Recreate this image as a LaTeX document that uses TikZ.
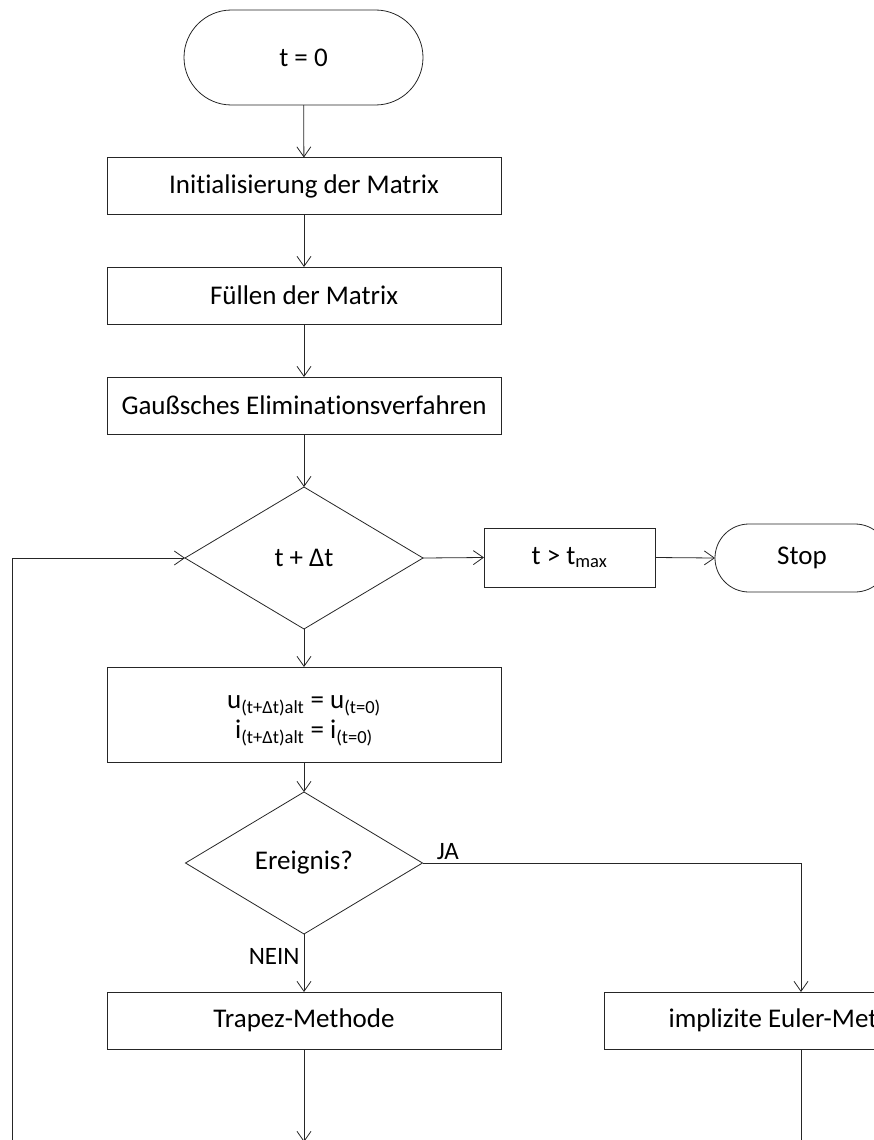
\documentclass[tikz,border=0pt]{standalone}
\usepackage{fontspec}
\setmainfont{Carlito}[Ligatures=NoCommon]
\usetikzlibrary{shapes.geometric,arrows.meta}

\tikzset{
  base/.style={draw=black!85, line width=0.8pt, inner sep=0pt, outer sep=0pt,
    font=\fontsize{27}{32}\selectfont, text=black},
  proc/.style={base, rectangle, minimum width=394pt, minimum height=57pt},
  term/.style={base, rectangle, rounded corners=#1},
  decide/.style={base, diamond, minimum width=238pt, minimum height=142pt},
  flow/.style={draw=black!85, line width=0.8pt, -{Straight Barb[length=10pt,width=14pt]}},
  lbl/.style={font=\fontsize{25}{30}\selectfont, inner sep=0pt}
}
\newcommand{\sub}[1]{\textsubscript{\fontsize{18.5}{22}\selectfont #1}}

\begin{document}
\begin{tikzpicture}[x=1pt, y=-1pt]
  \useasboundingbox (0,0) rectangle (874,1140);
  \clip (0,0) rectangle (874,1140);

  % main column
  \node[term=47.5pt, minimum width=239pt, minimum height=95pt] (start) at (303.5,57.5) {t = 0};
  \node[proc] (init) at (304,186) {Initialisierung der Matrix};
  \node[proc] (fill) at (304,295.5) {Füllen der Matrix};
  \node[proc] (gauss) at (304,405.5) {Gaußsches Eliminationsverfahren};
  \node[decide] (tstep) at (304,558) {t + Δt};
  \node[proc, minimum height=95pt] (reset) at (304,714.5) {};
  \node[font=\fontsize{27}{32}\selectfont, align=center, inner sep=0pt] (resettext) at (304,721)
    {u\sub{(t+Δt)alt} = u\sub{(t=0)}\\[-2pt] i\sub{(t+Δt)alt} = i\sub{(t=0)}};
  \node[decide, minimum width=237pt] (event) at (304,863) {Ereignis?};
  \node[proc] (trapez) at (304,1020.5) {Trapez-Methode};
  \node[proc] (euler) at (801,1020.5) {implizite Euler-Methode};

  % end branch
  \node[proc, minimum width=171pt, minimum height=59pt] (tmax) at (569.5,557.5) {t > t\sub{max}};
  \node[term=34pt, minimum width=174pt, minimum height=68pt] (stop) at (802,558) {Stop};

  % loose ends below the visible area
  \coordinate (trapezEnd) at (304,1142);
  \coordinate (eulerEnd) at (801,1170);
  \coordinate (loopStart) at (12,1170);

  % connectors
  \draw[flow] (start) -- (init);
  \draw[flow] (init) -- (fill);
  \draw[flow] (fill) -- (gauss);
  \draw[flow] (gauss) -- (tstep);
  \draw[flow] (tstep.east) -- (tmax.west);
  \draw[flow] (tmax.east) -- (stop.west);
  \draw[flow] (tstep.south) -- (reset.north);
  \draw[flow] (reset.south) -- (event.north);
  \draw[flow] (event.south) -- node[lbl, anchor=east, xshift=-4pt, pos=0.38] {NEIN} (trapez.north);
  \draw[flow] (event.east) -- node[lbl, anchor=south west, xshift=14pt, yshift=3pt, pos=0] {JA} (event.east -| euler.north) -- (euler.north);
  \draw[flow] (trapez.south) -- (trapezEnd);
  \draw[flow] (euler.south) -- (eulerEnd);
  \draw[flow] (loopStart) |- (tstep.west);
\end{tikzpicture}
\end{document}
